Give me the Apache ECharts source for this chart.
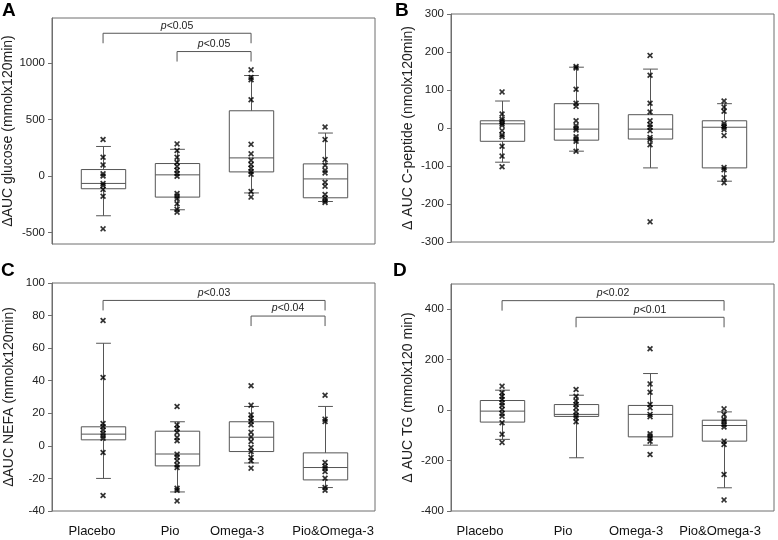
<!DOCTYPE html>
<html>
<head>
<meta charset="utf-8">
<script src="https://cdn.jsdelivr.net/npm/echarts@6/dist/echarts.min.js"></script>
<style>
  html, body { margin: 0; background: #fff; }
  #chart { width: 778px; height: 540px; }
</style>
</head>
<body>
<div id="chart"></div>
<script>
// groups on the x axis
const groups = ['Placebo', 'Pio', 'Omega-3', 'Pio&Omega-3']

// box stats per group: [whisker low, q1, median, q3, whisker high]
const glucoseBox = [[-350, -111, -64, 59, 263], [-297, -185, 12, 112, 238], [-148, 38, 162, 579, 891], [-224, -191, -24, 109, 382]]
const cpeptideBox = [[-90, -35, 11, 19, 71], [-61, -32, -3, 64, 160], [-105, -29, -3, 35, 155], [-140, -105, 2, 19, 64]]
const nefaBox = [[-20, 3.7, 7.2, 11.7, 63], [-28.3, -12.3, -5, 9, 14.8], [-10.5, -3.5, 5.3, 14.8, 24.2], [-25.6, -20.9, -13.3, -4.3, 24.2]]
const tgBox = [[-116, -47.5, -4, 38, 79], [-189, -25, -17, 22, 59], [-139, -106, -17, 18.5, 145], [-308, -123, -61, -40, -7]]

// individual subjects per group
const glucosePoints = [
  [325, 168, 100, 22, 2, -64, -82, -117, -178, -466],
  [286, 227, 168, 121, 86, 53, 24, 0, -153, -176, -197, -244, -294, -318],
  [941, 873, 853, 676, 282, 198, 141, 103, 71, 41, 18, -135, -185],
  [435, 324, 147, 97, 53, 29, -53, -88, -162, -194, -218, -232]
]
const cpeptidePoints = [
  [95, 37, 23, 18, 12, 7, -7, -18, -23, -48, -74, -102],
  [162, 158, 102, 65, 57, 19, 6, 0, -5, -23, -29, -35, -61],
  [191, 139, 65, 42, 19, 9, 2, -7, -25, -30, -44, -247],
  [71, 55, 44, 12, 6, 2, -4, -20, -104, -110, -131, -144]
]
const nefaPoints = [
  [77, 42, 13.7, 11.7, 9.8, 7.8, 6.1, 4.7, -4.1, -30.5],
  [24.2, 12.9, 10.7, 8.2, 5.1, 3.1, -5.1, -6.8, -9.2, -11.7, -13.3, -26, -27.3, -33.8],
  [36.9, 25, 19, 17, 15, 12.9, 8.4, 5.5, 2.7, -1, -3.5, -7.2, -9.2, -13.7],
  [31.1, 16.4, 15, -10.2, -12.5, -13.9, -15.8, -19.9, -25.6, -27.3]
]
const tgPoints = [
  [95, 69, 55, 42, 29, 18.5, 2.6, -13, -24, -50, -96, -128],
  [82, 55, 36, 22, 9, -7, -20, -30, -46],
  [243, 104, 71, 22, 9, -17, -26, -94, -103, -112, -123, -176],
  [5, -17, -37, -46, -57, -67, -123, -136, -255, -356]
]

// significance brackets: [from group, to group, level, label]
const glucoseSig = [[1, 3, 1265, 'p<0.05'], [2, 3, 1103, 'p<0.05']]
const cpeptideSig = []
const nefaSig = [[1, 4, 89.3, 'p<0.03'], [3, 4, 79.7, 'p<0.04']]
const tgSig = [[1, 4, 434, 'p<0.02'], [2, 4, 368, 'p<0.01']]

// y axis ticks
const glucoseTicks = [-500, 0, 500, 1000]
const cpeptideTicks = [-300, -200, -100, 0, 100, 200, 300]
const nefaTicks = [-40, -20, 0, 20, 40, 60, 80, 100]
const tgTicks = [-400, -200, 0, 200, 400]

const FONT = 'Liberation Sans, Arial, sans-serif'
const FRAME = '#6e6e6e'
const LINE = '#555'
const BOX_W = 0.6
const CAP_W = 0.2
// the original figure's group labels sit a little off the box centres (px nudges)
const NEFA_LABEL_NUDGE = [-11, -7, -14, 8]
const TG_LABEL_NUDGE = [-22, -13, -14, -4]

const panels = [
  { letter: 'A', grid: { left: 52, top: 18, width: 323, height: 226 }, y: [-600, 1400], ticks: glucoseTicks, name: 'ΔAUC glucose (mmolx120min)', box: glucoseBox, pts: glucosePoints, sig: glucoseSig, nudge: null, lx: 2, ly: 1 },
  { letter: 'B', grid: { left: 451, top: 14, width: 323, height: 228 }, y: [-300, 300], ticks: cpeptideTicks, name: 'Δ AUC C-peptide (nmolx120min)', box: cpeptideBox, pts: cpeptidePoints, sig: cpeptideSig, nudge: null, lx: 395, ly: 1 },
  { letter: 'C', grid: { left: 52, top: 283, width: 323, height: 228 }, y: [-40, 100], ticks: nefaTicks, name: 'ΔAUC NEFA (mmolx120min)', box: nefaBox, pts: nefaPoints, sig: nefaSig, nudge: NEFA_LABEL_NUDGE, lx: 1, ly: 261 },
  { letter: 'D', grid: { left: 451, top: 284, width: 323, height: 227 }, y: [-400, 500], ticks: tgTicks, name: 'Δ AUC TG (mmolx120 min)', box: tgBox, pts: tgPoints, sig: tgSig, nudge: TG_LABEL_NUDGE, lx: 393, ly: 261 }
]

function seg (x1, y1, x2, y2, color) {
  return { type: 'line', shape: { x1: x1, y1: y1, x2: x2, y2: y2 }, style: { stroke: color, lineWidth: 1 } }
}

function renderBox (params, api) {
  const x = api.value(0)
  const lo = api.coord([x, api.value(1)])
  const q1 = api.coord([x, api.value(2)])
  const md = api.coord([x, api.value(3)])
  const q3 = api.coord([x, api.value(4)])
  const hi = api.coord([x, api.value(5)])
  const bw = api.size([BOX_W, 0])[0]
  const cw = api.size([CAP_W, 0])[0]
  const cx = Math.round(lo[0]) + 0.5
  return {
    type: 'group',
    children: [
      seg(cx, hi[1], cx, q3[1], LINE),
      seg(cx, q1[1], cx, lo[1], LINE),
      seg(cx - cw / 2, hi[1], cx + cw / 2, hi[1], LINE),
      seg(cx - cw / 2, lo[1], cx + cw / 2, lo[1], LINE),
      { type: 'rect', shape: { x: cx - bw / 2, y: q3[1], width: bw, height: q1[1] - q3[1] }, style: { fill: 'none', stroke: LINE, lineWidth: 1 } },
      seg(cx - bw / 2, md[1], cx + bw / 2, md[1], LINE)
    ]
  }
}

function renderSig (params, api, labels) {
  const a = api.coord([api.value(0), api.value(2)])
  const b = api.coord([api.value(1), api.value(2)])
  const drop = 10
  const label = labels[params.dataIndex]
  return {
    type: 'group',
    children: [
      { type: 'polyline', shape: { points: [[a[0], a[1] + drop], [a[0], a[1]], [b[0], b[1]], [b[0], b[1] + drop]] }, style: { fill: 'none', stroke: LINE, lineWidth: 1 } },
      {
        type: 'text',
        x: (a[0] + b[0]) / 2,
        y: a[1] - 2,
        style: {
          text: '{i|p}' + label.slice(1),
          align: 'center',
          verticalAlign: 'bottom',
          fontSize: 10.5,
          fontFamily: FONT,
          fill: '#222',
          rich: { i: { fontStyle: 'italic', fontSize: 10.5, fontFamily: FONT, fill: '#222' } }
        }
      }
    ]
  }
}

// rich styles that shift each group label sideways by padding one side
function nudgeRich (nudge) {
  const rich = {}
  nudge.forEach(function (s, k) {
    rich['g' + k] = {
      fontSize: 13,
      fontFamily: FONT,
      color: '#111',
      padding: s < 0 ? [0, -2 * s, 0, 0] : [0, 0, 0, 2 * s]
    }
  })
  return rich
}

const option = {
  animation: false,
  backgroundColor: '#fff',
  grid: [],
  xAxis: [],
  yAxis: [],
  series: [],
  graphic: []
}

panels.forEach(function (p, i) {
  option.grid.push(Object.assign({ show: true, borderColor: FRAME, borderWidth: 1, backgroundColor: '#fff' }, p.grid))
  option.xAxis.push({
    type: 'value',
    gridIndex: i,
    min: 0.31,
    max: 4.675,
    axisLine: { show: false },
    axisTick: { show: false },
    splitLine: { show: false },
    axisLabel: {
      show: !!p.nudge,
      customValues: [1, 2, 3, 4],
      formatter: function (v) {
        const k = Math.round(v) - 1
        return '{g' + k + '|' + groups[k] + '}'
      },
      rich: p.nudge ? nudgeRich(p.nudge) : {},
      fontSize: 13,
      fontFamily: FONT,
      color: '#111',
      margin: 14
    }
  })
  option.yAxis.push({
    type: 'value',
    gridIndex: i,
    min: p.y[0],
    max: p.y[1],
    name: p.name,
    nameLocation: 'middle',
    nameGap: 36,
    nameTextStyle: { fontSize: 14, fontFamily: FONT, color: '#222' },
    axisLine: { show: true, lineStyle: { color: FRAME } },
    axisTick: { show: true, length: 4, customValues: p.ticks, lineStyle: { color: FRAME } },
    axisLabel: {
      customValues: p.ticks,
      formatter: function (v) { return String(v) },
      fontSize: 11.5,
      fontFamily: FONT,
      color: '#222',
      margin: 7
    },
    splitLine: { show: false }
  })
  option.series.push({
    type: 'custom',
    xAxisIndex: i,
    yAxisIndex: i,
    renderItem: renderBox,
    encode: { x: 0, y: [1, 2, 3, 4, 5] },
    data: p.box.map(function (b, g) { return [g + 1].concat(b) }),
    z: 2
  })
  const pts = []
  p.pts.forEach(function (list, g) {
    list.forEach(function (v) { pts.push([g + 1, v]) })
  })
  option.series.push({
    type: 'scatter',
    xAxisIndex: i,
    yAxisIndex: i,
    symbol: 'path://M0,2L2,0L5,3L8,0L10,2L7,5L10,8L8,10L5,7L2,10L0,8L3,5Z',
    symbolSize: 6,
    itemStyle: { color: '#000' },
    data: pts,
    z: 3
  })
  if (p.sig.length) {
    const labels = p.sig.map(function (s) { return s[3] })
    option.series.push({
      type: 'custom',
      xAxisIndex: i,
      yAxisIndex: i,
      renderItem: function (params, api) { return renderSig(params, api, labels) },
      encode: { x: [0, 1], y: 2 },
      data: p.sig.map(function (s) { return [s[0], s[1], s[2]] }),
      z: 4
    })
  }
  option.graphic.push({
    type: 'text',
    left: p.lx,
    top: p.ly,
    style: { text: p.letter, font: 'bold 19px ' + FONT, fill: '#000' }
  })
})

const chart = echarts.init(document.getElementById('chart'), null, { renderer: 'canvas' })
chart.setOption(option)
</script>
</body>
</html>
